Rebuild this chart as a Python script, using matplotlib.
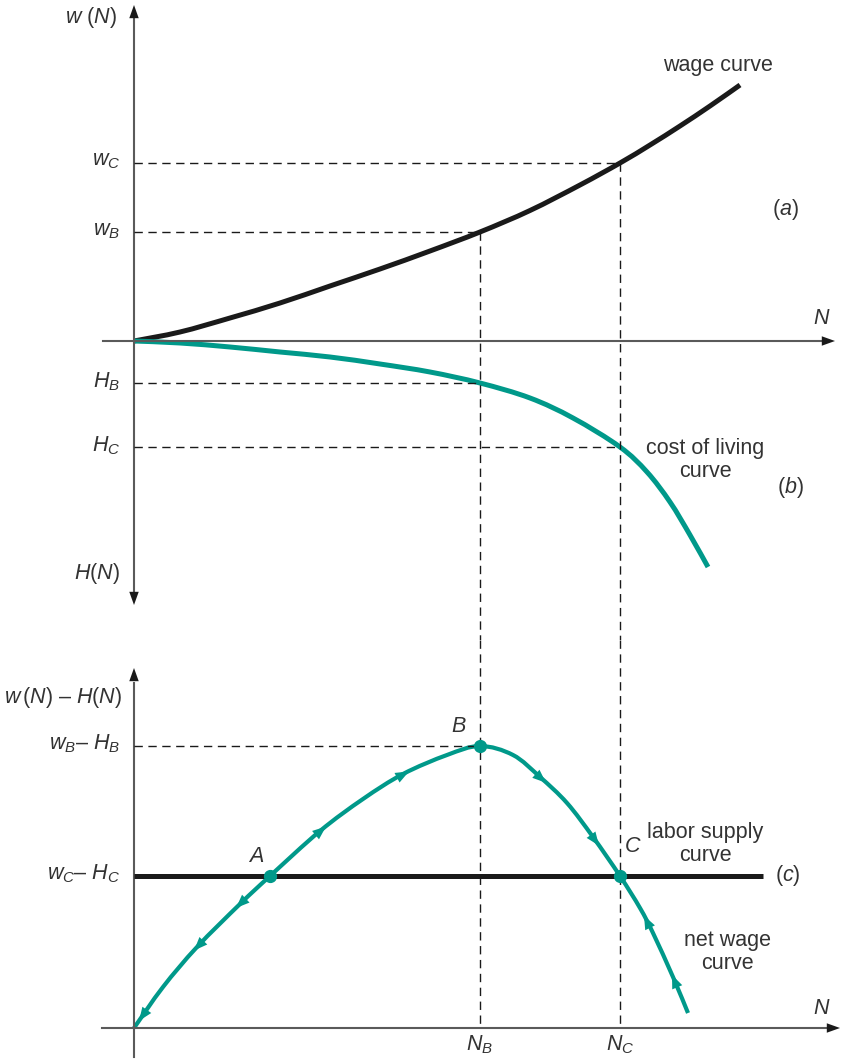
import numpy as np
import matplotlib
matplotlib.use('Agg')
import matplotlib.pyplot as plt
from matplotlib.path import Path
from matplotlib.patches import PathPatch

plt.rcParams['font.family'] = ['Liberation Sans', 'DejaVu Sans']
plt.rcParams['mathtext.fontset'] = 'custom'
plt.rcParams['mathtext.it'] = 'Liberation Sans:italic'
plt.rcParams['mathtext.rm'] = 'Liberation Sans'
plt.rcParams['mathtext.cal'] = 'Liberation Sans:italic'

# ---- data (schematic values) ----
wage_N = [0, 0.46, 0.96, 1.46, 1.96, 2.46, 2.96, 3.46, 3.96, 4.46, 4.86, 5.16, 5.46, 5.76, 6.06]
wage_w = [0, 0.09, 0.23, 0.38, 0.55, 0.72, 0.90, 1.09, 1.305, 1.56, 1.78, 1.96, 2.15, 2.35, 2.56]

cost_N = [0, 0.46, 0.96, 1.46, 1.96, 2.46, 2.96, 3.46, 3.96, 4.39, 4.86, 5.13, 5.36, 5.56, 5.74]
cost_H = [0, 0.02, 0.06, 0.11, 0.16, 0.23, 0.31, 0.42, 0.57, 0.77, 1.06, 1.31, 1.61, 1.94, 2.26]

net_N = [0, 0.29, 0.63, 1.06, 1.36, 1.86, 2.29, 2.69, 3.13, 3.46, 3.79, 4.06, 4.33, 4.59,
         4.86, 5.06, 5.19, 5.39, 5.54]
net_v = [0, 0.41, 0.81, 1.24, 1.52, 1.97, 2.29, 2.54, 2.73, 2.82, 2.73, 2.51, 2.25, 1.91,
         1.52, 1.20, 0.95, 0.51, 0.15]

N_A, N_B, N_C = 1.36, 3.46, 4.86
w_B, w_C = 1.09, 1.78
H_B, H_C = 0.42, 1.06
net_B, supply = 2.82, 1.52
supply_end = 6.29

# arrows on the net wage curve: position in N, direction (+1 right, -1 left)
arrow_N = [0.11, 0.66, 1.08, 1.86, 2.69, 4.06, 4.59, 5.16, 5.44]
arrow_dir = [-1, -1, -1, 1, 1, 1, 1, -1, -1]

teal = '#00998a'
ink = '#1a1a1a'
axc = '#5a5a5a'
txt = '#333333'
fs = 15.5

fig = plt.figure(figsize=(8.43, 10.61), dpi=100)
top = fig.add_axes([0, 1 - 640 / 1061, 1, 640 / 1061])
bot = fig.add_axes([0, 0, 1, 421 / 1061])
top.set_xlim(-1.34, 7.09)
top.set_ylim(-2.99, 3.41)
bot.set_xlim(-1.34, 7.09)
bot.set_ylim(-0.33, 3.88)
for ax in (top, bot):
    ax.axis('off')


def head(ax, x0, y0, x1, y1, scale=10, hl=0.95, hw=0.34, color=ink):
    ax.annotate('', xy=(x1, y1), xytext=(x0, y0),
                arrowprops=dict(arrowstyle=f'-|>,head_length={hl},head_width={hw}',
                                color=color, lw=0, shrinkA=0, shrinkB=0,
                                mutation_scale=scale))


def curve(ax, xs, ys, color, lw):
    # smooth line through the points (Catmull-Rom as cubic Bezier segments)
    p = np.column_stack([xs, ys])
    verts = [p[0]]
    codes = [Path.MOVETO]
    for i in range(len(p) - 1):
        p0 = p[max(i - 1, 0)]
        p3 = p[min(i + 2, len(p) - 1)]
        verts += [p[i] + (p[i + 1] - p0) / 6, p[i + 1] - (p3 - p[i]) / 6, p[i + 1]]
        codes += [Path.CURVE4] * 3
    ax.add_patch(PathPatch(Path(verts, codes), fill=False, edgecolor=color, lw=lw,
                           capstyle='butt', joinstyle='round'))


dash = dict(color=ink, lw=1.0, dashes=(6, 4))

# ---- top panel: (a) wage curve and (b) cost of living ----
top.plot([-0.31, 6.95], [0, 0], color=axc, lw=1.5)
top.plot([0, 0], [-2.55, 3.30], color=axc, lw=1.5)
head(top, 6.8, 0, 7.01, 0)
head(top, 0, 3.15, 0, 3.36)
head(top, 0, -2.43, 0, -2.64)

top.plot([0, N_B], [w_B, w_B], **dash)
top.plot([0, N_C], [w_C, w_C], **dash)
top.plot([0, N_B], [-H_B, -H_B], **dash)
top.plot([0, N_C], [-H_C, -H_C], **dash)
top.plot([N_B, N_B], [w_B, -2.99], **dash)
top.plot([N_C, N_C], [w_C, -2.99], **dash)

curve(top, wage_N, wage_w, ink, 3.6)
curve(top, cost_N, -np.array(cost_H), teal, 3.6)

top.text(-0.17, 3.23, r'$w\ (N)$', ha='right', va='center', fontsize=fs, color=txt)
top.text(-0.14, w_C + 0.02, r'$w_C$', ha='right', va='center', fontsize=fs, color=txt)
top.text(-0.14, w_B + 0.01, r'$w_B$', ha='right', va='center', fontsize=fs, color=txt)
top.text(-0.14, -H_B + 0.01, r'$H_B$', ha='right', va='center', fontsize=fs, color=txt)
top.text(-0.14, -H_C + 0.01, r'$H_C$', ha='right', va='center', fontsize=fs, color=txt)
top.text(-0.14, -2.32, r'$H(N)$', ha='right', va='center', fontsize=fs, color=txt)
top.text(6.88, 0.23, r'$N$', ha='center', va='center', fontsize=fs, color=txt)
top.text(5.84, 2.76, 'wage curve', ha='center', va='center', fontsize=fs, color=txt)
top.text(6.51, 1.31, r'($a$)', ha='center', va='center', fontsize=fs, color=txt)
top.text(5.71, -1.19, 'cost of living\ncurve', ha='center', va='center', fontsize=fs,
         color=txt, linespacing=1.1)
top.text(6.56, -1.46, r'($b$)', ha='center', va='center', fontsize=fs, color=txt)

# ---- bottom panel: (c) net wage ----
bot.plot([-0.32, 7.0], [0, 0], color=axc, lw=1.5)
bot.plot([0, 0], [-0.29, 3.45], color=axc, lw=1.5)
head(bot, 6.85, 0, 7.06, 0)
head(bot, 0, 3.39, 0, 3.60)

bot.plot([N_B, N_B], [3.88, 0], **dash)
bot.plot([N_C, N_C], [3.88, 0], **dash)
bot.plot([0, N_B], [net_B, net_B], **dash)

bot.plot([0, supply_end], [supply, supply], color=ink, lw=3.6, solid_capstyle='butt')
curve(bot, net_N, net_v, teal, 3.0)
for a, s in zip(arrow_N, arrow_dir):
    x0, x1 = a - s * 0.06, a + s * 0.06
    y0, y1 = np.interp(x0, net_N, net_v), np.interp(x1, net_N, net_v)
    head(bot, x0, y0, x1, y1, scale=13, hl=0.75, hw=0.3, color=teal)
bot.plot([N_A, N_B, N_C], [supply, net_B, supply], 'o', color=teal, ms=8.5)

bot.text(-0.12, 3.31, r'$w\,(N)$ – $H(N)$', ha='right', va='center', fontsize=fs, color=txt)
bot.text(-0.14, net_B + 0.02, r'$w_B$– $H_B$', ha='right', va='center', fontsize=fs, color=txt)
bot.text(-0.14, supply + 0.02, r'$w_C$– $H_C$', ha='right', va='center', fontsize=fs, color=txt)
bot.text(1.22, 1.71, r'$A$', ha='center', va='center', fontsize=fs, color=txt)
bot.text(3.25, 3.01, r'$B$', ha='center', va='center', fontsize=fs, color=txt)
bot.text(4.99, 1.81, r'$C$', ha='center', va='center', fontsize=fs, color=txt)
bot.text(5.71, 1.84, 'labor supply\ncurve', ha='center', va='center', fontsize=fs,
         color=txt, linespacing=1.1)
bot.text(6.54, 1.52, r'($c$)', ha='center', va='center', fontsize=fs, color=txt)
bot.text(5.93, 0.76, 'net wage\ncurve', ha='center', va='center', fontsize=fs,
         color=txt, linespacing=1.1)
bot.text(6.88, 0.20, r'$N$', ha='center', va='center', fontsize=fs, color=txt)
bot.text(N_B, -0.17, r'$N_B$', ha='center', va='center', fontsize=fs, color=txt)
bot.text(N_C, -0.17, r'$N_C$', ha='center', va='center', fontsize=fs, color=txt)

fig.savefig('out.png', dpi=100)
